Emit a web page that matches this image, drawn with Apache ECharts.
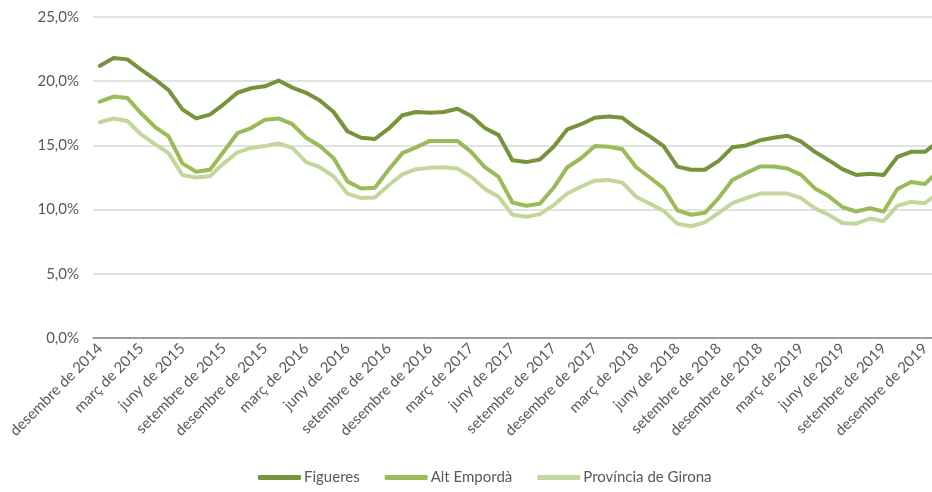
<!DOCTYPE html>
<html>
<head>
<meta charset="utf-8">
<script src="https://cdn.jsdelivr.net/npm/echarts@6/dist/echarts.min.js"></script>
<style>
  html, body { margin: 0; padding: 0; background: #fff; }
  #chart { width: 932px; height: 492px; }
</style>
</head>
<body>
<div id="chart"></div>
<script>
var myChart = echarts.init(document.getElementById('chart'));

let months = ['gener', 'febrer', 'març', 'abril', 'maig', 'juny', 'juliol', 'agost', 'setembre', 'octubre', 'novembre', 'desembre'];
// desembre 2014 .. gener 2020 (the last one is cut by the right edge)
let categories = ['desembre de 2014'];
for (let y = 2015; y <= 2019; y++) {
	months.forEach(m => categories.push(m + ' de ' + y));
}
categories.push('gener de 2020');

let figueres = [
	21.2, 21.8, 21.7, 20.9, 20.15, 19.3, 17.8, 17.1, 17.4, 18.2, 19.1, 19.45,
	19.6, 20.05, 19.5, 19.1, 18.5, 17.6, 16.1, 15.6, 15.5, 16.3, 17.35, 17.6,
	17.55, 17.6, 17.85, 17.3, 16.35, 15.8, 13.85, 13.7, 13.9, 14.9, 16.25, 16.65,
	17.15, 17.25, 17.15, 16.35, 15.7, 14.95, 13.35, 13.1, 13.1, 13.8, 14.85, 15.0,
	15.4, 15.6, 15.75, 15.3, 14.5, 13.85, 13.15, 12.7, 12.8, 12.7, 14.1, 14.5,
	14.5, 15.3
];
let altEmporda = [
	18.4, 18.8, 18.7, 17.5, 16.45, 15.7, 13.6, 12.95, 13.1, 14.5, 15.95, 16.35,
	17.0, 17.1, 16.65, 15.6, 14.95, 14.0, 12.2, 11.65, 11.7, 13.1, 14.4, 14.85,
	15.35, 15.35, 15.35, 14.5, 13.3, 12.55, 10.55, 10.3, 10.45, 11.7, 13.3, 14.0,
	14.95, 14.9, 14.7, 13.3, 12.5, 11.65, 9.95, 9.6, 9.75, 10.9, 12.3, 12.85,
	13.35, 13.35, 13.2, 12.7, 11.65, 11.05, 10.2, 9.85, 10.1, 9.85, 11.6, 12.15,
	12.0, 13.0
];
let girona = [
	16.8, 17.1, 16.9, 15.85, 15.1, 14.4, 12.7, 12.5, 12.6, 13.6, 14.45, 14.8,
	14.95, 15.15, 14.8, 13.7, 13.3, 12.6, 11.25, 10.9, 10.95, 11.9, 12.75, 13.15,
	13.25, 13.3, 13.2, 12.55, 11.6, 11.0, 9.6, 9.45, 9.65, 10.35, 11.25, 11.8,
	12.25, 12.3, 12.1, 11.0, 10.45, 9.9, 8.9, 8.7, 9.0, 9.75, 10.5, 10.9,
	11.25, 11.25, 11.25, 10.9, 10.1, 9.6, 8.95, 8.9, 9.3, 9.1, 10.3, 10.6,
	10.5, 11.3
];

let color = ['#77933C', '#9BBB59', '#C3D69B'];
let font = 'Lato';

function lineSeries(name, data, c) {
	return {
		name: name,
		type: 'line',
		data: data,
		symbol: 'none',
		lineStyle: {
			color: c,
			width: 4,
			cap: 'round',
			join: 'round'
		},
		itemStyle: { color: c }
	};
}

option = {
	animation: false,
	color: color,
	grid: {
		left: 93,
		top: 17,
		bottom: 154,
		width: 852.5,
		outerBoundsMode: 'none'
	},
	legend: {
		left: 253,
		bottom: 2,
		icon: 'roundRect',
		itemWidth: 43,
		itemHeight: 5,
		itemGap: 25,
		textStyle: {
			color: '#595959',
			fontSize: 15,
			fontFamily: font,
			padding: [0, 0, 0, -2]
		}
	},
	xAxis: {
		type: 'category',
		boundaryGap: true,
		data: categories,
		axisLine: { lineStyle: { color: '#868686', width: 1.5 } },
		axisTick: { show: false },
		axisLabel: {
			interval: 2,
			rotate: 45,
			margin: 8,
			color: '#595959',
			fontSize: 15,
			fontFamily: font
		}
	},
	yAxis: {
		type: 'value',
		min: 0,
		max: 25,
		interval: 5,
		axisLine: { show: false },
		axisTick: { show: false },
		axisLabel: {
			margin: 14,
			color: '#595959',
			fontSize: 15,
			fontFamily: font,
			formatter: v => v.toFixed(1).replace('.', ',') + '%'
		},
		splitLine: { lineStyle: { color: '#D9D9D9', width: 1.5 } }
	},
	series: [
		lineSeries('Figueres', figueres, color[0]),
		lineSeries('Alt Empordà', altEmporda, color[1]),
		lineSeries('Província de Girona', girona, color[2])
	]
};
myChart.setOption(option);
</script>
</body>
</html>
